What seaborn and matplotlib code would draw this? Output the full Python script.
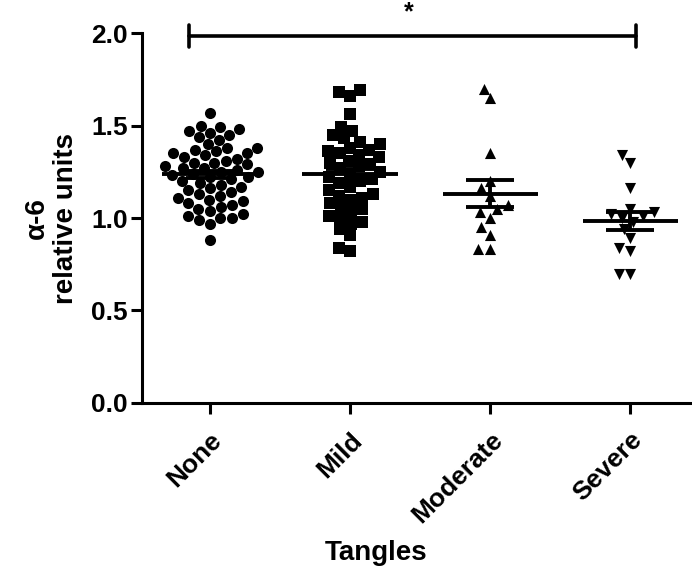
import numpy as np
import pandas as pd
import matplotlib
matplotlib.use("Agg")
import matplotlib.pyplot as plt
import seaborn as sns

# Tangle severity groups and alpha-6 levels (relative units)
groups = ["None", "Mild", "Moderate", "Severe"]
none_vals = [1.57, 1.50, 1.49, 1.48, 1.47, 1.46, 1.45, 1.44, 1.42, 1.40, 1.38, 1.37,
             1.36, 1.35, 1.34, 1.33, 1.32, 1.31, 1.30, 1.29, 1.28, 1.27, 1.27, 1.26,
             1.25, 1.25, 1.24, 1.23, 1.22, 1.22, 1.21, 1.20, 1.19, 1.18, 1.17, 1.16,
             1.15, 1.14, 1.13, 1.12, 1.11, 1.10, 1.09, 1.08, 1.07, 1.06, 1.05, 1.04,
             1.02, 1.01, 1.00, 1.00, 0.99, 0.97, 0.88, 1.30, 1.35, 1.38]
mild_vals = [1.69, 1.68, 1.66, 1.56, 1.49, 1.47, 1.45, 1.43, 1.41, 1.40, 1.38, 1.37,
             1.35, 1.33, 1.31, 1.30, 1.28, 1.27, 1.25, 1.24, 1.22, 1.21, 1.19, 1.17,
             1.15, 1.13, 1.12, 1.10, 1.08, 1.06, 1.05, 1.03, 1.01, 1.00, 0.98, 0.97,
             0.94, 0.91, 0.84, 0.82, 1.36, 1.29, 1.20, 1.11, 1.34]
moderate_vals = [1.70, 1.65, 1.35, 1.20, 1.16, 1.12, 1.07, 1.05, 1.03, 1.00, 0.95,
                 0.91, 0.83, 0.83]
severe_vals = [1.34, 1.30, 1.16, 1.05, 1.03, 1.02, 1.01, 1.00, 0.98, 0.94, 0.89,
               0.84, 0.82, 0.70, 0.70]
markers = ["o", "s", "^", "v"]
y_ticks = [0.0, 0.5, 1.0, 1.5, 2.0]
y_tick_labels = ["0.0", "0.5", "1.0", "1.5", "2.0"]

series = [none_vals, mild_vals, moderate_vals, severe_vals]
df = pd.concat(
    [pd.DataFrame({"Tangles": g, "value": v}) for g, v in zip(groups, series)],
    ignore_index=True,
)

sns.set_theme(style="ticks")
plt.rcParams["font.family"] = ["Liberation Sans", "DejaVu Sans"]
plt.rcParams["font.weight"] = "bold"
for key in ("text.color", "axes.labelcolor", "xtick.color", "ytick.color",
            "axes.edgecolor"):
    plt.rcParams[key] = "black"

fig = plt.figure(figsize=(6.92, 5.72), dpi=100)
ax = fig.add_axes([0.205, 0.2955, 0.795, 0.6467])

for g, m in zip(groups, markers):
    sub = df[df["Tangles"] == g]
    sns.swarmplot(data=sub, x="Tangles", y="value", order=groups, marker=m,
                  color="black", size=8, linewidth=0, ax=ax, warn_thresh=1.0,
                  zorder=3)

# mean line with SEM error bars per group
for i, v in enumerate(series):
    arr = np.asarray(v)
    mean = arr.mean()
    sem = arr.std(ddof=1) / np.sqrt(len(arr))
    ax.hlines(mean, i - 0.34, i + 0.34, color="black", lw=2.8, zorder=10)
    ax.errorbar(i, mean, yerr=sem, fmt="none", ecolor="black", elinewidth=2.8,
                capsize=17, capthick=2.8, zorder=10)

# significance bracket None vs Severe
yb = 1.985
ax.plot([-0.15, 3.04], [yb, yb], color="black", lw=2.6, clip_on=False, zorder=6)
for xe in (-0.15, 3.04):
    ax.plot([xe, xe], [yb - 0.06, yb + 0.06], color="black", lw=2.6,
            clip_on=False, solid_capstyle="round", zorder=6)
ax.text(1.42, 2.045, "*", ha="center", va="bottom", fontsize=18,
        fontweight="bold", clip_on=False)

ax.set_xlim(-0.485, 3.44)
ax.set_ylim(0, 2.0)
ax.set_yticks(y_ticks)
ax.set_yticklabels(y_tick_labels)
sns.despine(ax=ax)
for s in ("left", "bottom"):
    ax.spines[s].set_linewidth(2.2)
    ax.spines[s].set_color("black")
ax.tick_params(axis="both", which="major", length=8, width=2.2, color="black",
               labelcolor="black", direction="out")
ax.tick_params(axis="y", labelsize=19, pad=2)
ax.tick_params(axis="x", labelsize=19, pad=10)
for lab in ax.get_yticklabels():
    lab.set_fontweight("bold")
plt.setp(ax.get_xticklabels(), rotation=45, ha="right", rotation_mode="anchor",
         fontweight="bold", fontsize=19)

ax.set_xlabel("Tangles", fontsize=20, fontweight="bold", va="top")
ax.xaxis.set_label_coords(0.425, -0.37)
ax.set_ylabel("α-6\nrelative units", fontsize=20, fontweight="bold",
              linespacing=1.15, va="center")
ax.yaxis.set_label_coords(-0.165, 0.5)

fig.savefig("out.png", dpi=100)
